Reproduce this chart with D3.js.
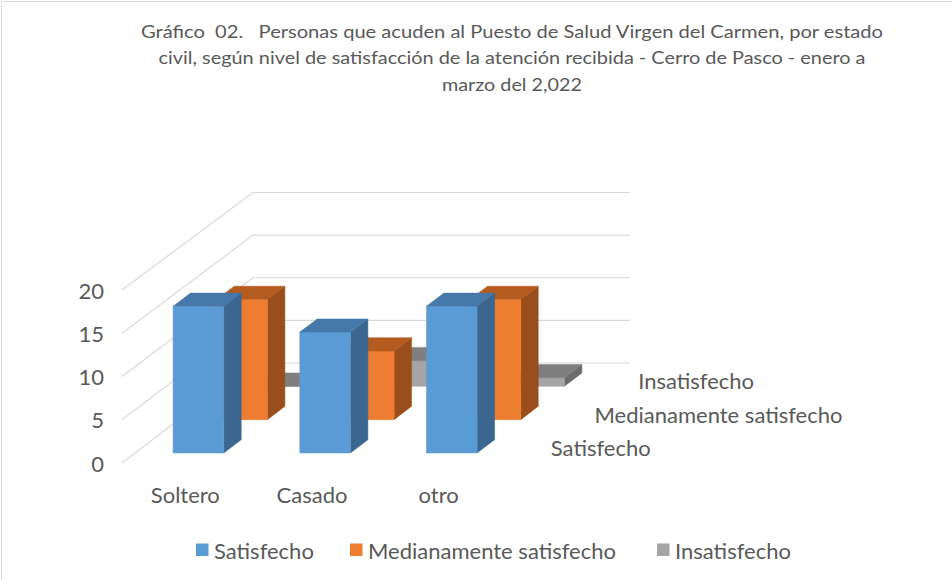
<!DOCTYPE html>
<html>
<head>
<meta charset="utf-8">
<script src="https://cdn.jsdelivr.net/npm/d3@7"></script>
<style>
  html, body { margin: 0; padding: 0; background: #fff; }
  svg { display: block; }
  text { font-family: Lato, "Open Sans", sans-serif; fill: #595959; }
</style>
</head>
<body>
<svg id="chart" width="952" height="580"></svg>
<script>
// ---- data ----
const categories = ["Soltero", "Casado", "otro"];
const seriesNames = ["Satisfecho", "Medianamente satisfecho", "Insatisfecho"];
const satisfecho = [17, 14, 17];
const medianamente = [14, 8, 14];
const insatisfecho = [0, 3, 1];
const yTicks = [0, 5, 10, 15, 20];
const titleLines = [
  "Gráfico  02.   Personas que acuden al Puesto de Salud Virgen del Carmen, por estado",
  "civil, según nivel de satisfacción de la atención recibida - Cerro de Pasco - enero a",
  "marzo del 2,022"
];

const seriesValues = [satisfecho, medianamente, insatisfecho];
const colors = [
  { front: "#5B9BD5", top: "#4678A9", side: "#3A668F" },
  { front: "#ED7D31", top: "#B45B20", side: "#9A4E1B" },
  { front: "#A5A5A5", top: "#7F7F7F", side: "#6B6B6B" }
];
const labelSize = 22;

const svg = d3.select("#chart");

// border (top/left)
svg.append("line").attr("x1", 1.5).attr("y1", 1.5).attr("x2", 952).attr("y2", 1.5)
  .attr("stroke", "#D9D9D9").attr("stroke-width", 1);
svg.append("line").attr("x1", 1.5).attr("y1", 1.5).attr("x2", 1.5).attr("y2", 580)
  .attr("stroke", "#D9D9D9").attr("stroke-width", 1);

// ---- scales / projection ----
const xBand = d3.scaleBand().domain(categories).range([122, 502])
  .paddingInner(0.6).paddingOuter(0.3);
const zBand = d3.scaleBand().domain(seriesNames).range([0, 1])
  .paddingInner(0.6).paddingOuter(0.3);
const yFront = d3.scaleLinear().domain([0, 20]).range([463, 290]);
const yBack = d3.scaleLinear().domain([0, 20]).range([363, 192.5]);
const depthDX = 131;

function P(x, v, t) {
  return [x + t * depthDX, yFront(v) + (yBack(v) - yFront(v)) * t];
}

// ---- walls gridlines ----
const grid = svg.append("g");
yTicks.forEach(v => {
  const a = P(122, v, 0), b = P(122, v, 1);
  const c = [630, b[1]];
  grid.append("polyline")
    .attr("points", [a, b, c].map(p => p.join(",")).join(" "))
    .attr("fill", "none").attr("stroke", "#D9D9D9").attr("stroke-width", 1.2);
});

// y axis labels
svg.append("g").selectAll("text").data(yTicks).join("text")
  .attr("x", 104).attr("y", d => yFront(d))
  .attr("text-anchor", "end").attr("dominant-baseline", "central")
  .attr("font-size", labelSize).text(d => d);

// ---- bars ----
const bw = xBand.bandwidth(), bd = zBand.bandwidth();
const barsG = svg.append("g");
for (let si = seriesNames.length - 1; si >= 0; si--) {
  const t0 = zBand(seriesNames[si]), t1 = t0 + bd;
  for (let ci = categories.length - 1; ci >= 0; ci--) {
    const v = seriesValues[si][ci];
    const x0 = xBand(categories[ci]), x1 = x0 + bw;
    const faces = [
      { pts: [P(x1, 0, t0), P(x1, 0, t1), P(x1, v, t1), P(x1, v, t0)], fill: colors[si].side },
      { pts: [P(x0, 0, t0), P(x1, 0, t0), P(x1, v, t0), P(x0, v, t0)], fill: colors[si].front },
      { pts: [P(x0, v, t0), P(x1, v, t0), P(x1, v, t1), P(x0, v, t1)], fill: colors[si].top }
    ];
    faces.forEach(f => {
      barsG.append("polygon")
        .attr("points", f.pts.map(p => p.join(",")).join(" "))
        .attr("fill", f.fill).attr("stroke", f.fill).attr("stroke-width", 0.5);
    });
  }
}

// category labels
svg.append("g").selectAll("text").data(categories).join("text")
  .attr("x", d => xBand(d) + bw / 2).attr("y", 494)
  .attr("text-anchor", "middle").attr("dominant-baseline", "central")
  .attr("font-size", labelSize).text(d => d);

// depth (series) labels
svg.append("g").selectAll("text").data(seriesNames).join("text")
  .attr("x", d => P(502, 0, zBand(d) + bd / 2)[0] + 27)
  .attr("y", d => P(502, 0, zBand(d) + bd / 2)[1] + 1)
  .attr("dominant-baseline", "central")
  .attr("font-size", labelSize).text(d => d);

// ---- title ----
const titleWidths = [742, 707, 140];
const titleG = svg.append("g");
titleLines.forEach((line, i) => {
  const t = titleG.append("text")
    .attr("x", 512).attr("y", 31 + i * 26.5)
    .attr("text-anchor", "middle").attr("dominant-baseline", "central")
    .attr("font-size", 17).style("white-space", "pre").text(line);
  const w = t.node().getComputedTextLength();
  if (Math.abs(w - titleWidths[i]) > 4) {
    t.attr("textLength", titleWidths[i]).attr("lengthAdjust", "spacingAndGlyphs");
  }
});

// ---- legend ----
const legendX = [196, 350, 657];
const legendG = svg.append("g");
seriesNames.forEach((s, i) => {
  legendG.append("rect").attr("x", legendX[i]).attr("y", 543.5)
    .attr("width", 12.5).attr("height", 12.5).attr("fill", colors[i].front);
  legendG.append("text").attr("x", legendX[i] + 18).attr("y", 550)
    .attr("dominant-baseline", "central").attr("font-size", labelSize).text(s);
});
</script>
</body>
</html>
